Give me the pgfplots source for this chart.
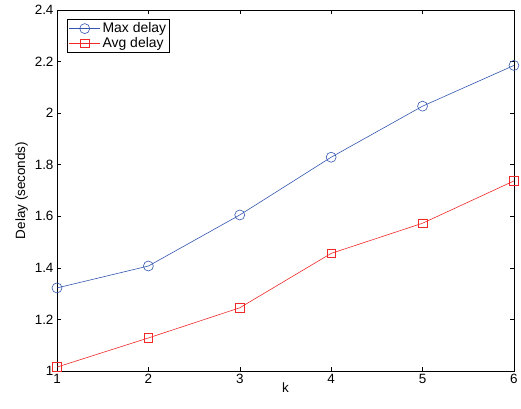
\documentclass[border=0pt]{standalone}
\usepackage{pgfplots}
\pgfplotsset{compat=1.18}
\usepackage{fontspec}
\setmainfont{Liberation Sans}
\definecolor{maxblue}{RGB}{50,85,175}
\definecolor{avgred}{RGB}{240,40,40}

\begin{document}
\begin{tikzpicture}
  \begin{axis}[
    name=ax,
    scale only axis,
    width=457bp, height=361bp,
    xmin=1, xmax=6, ymin=1, ymax=2.4,
    xtick={1,...,6},
    ytick={1,1.2,...,2.4},
    yticklabel style={/pgf/number format/fixed, /pgf/number format/precision=1},
    /pgf/number format/assume math mode=true,
    tick align=inside,
    major tick length=4bp,
    tick style={black, line width=0.5pt},
    axis line style={black, line width=0.8pt},
    ticklabel style={font=\fontsize{13.5}{15}\selectfont},
    xlabel={k}, ylabel={Delay (seconds)},
    label style={font=\fontsize{13.5}{15}\selectfont},
    xlabel style={yshift=8bp},
    ylabel style={yshift=0bp},
    legend style={at={(0.022,0.975)}, anchor=north west, font=\fontsize{14}{16}\selectfont,
      draw=black, line width=0.6pt, inner sep=1.5pt, row sep=-1pt},
    legend cell align=left,
    legend image code/.code={%
      \draw[mark repeat=2,mark phase=2] plot coordinates {(0cm,0cm) (0.55cm,0cm) (1.1cm,0cm)};},
  ]
    \addplot[color=maxblue, line width=0.6pt, mark=o, mark size=5bp, mark options={line width=0.6pt}]
      coordinates {(1,1.322) (2,1.407) (3,1.605) (4,1.829) (5,2.027) (6,2.185)};
    \addplot[color=avgred, line width=0.6pt, mark=square, mark size=4.3bp, mark options={line width=0.6pt}]
      coordinates {(1,1.015) (2,1.128) (3,1.245) (4,1.456) (5,1.573) (6,1.737)};
    \legend{Max delay, Avg delay}
  \end{axis}
  \path ([shift={(-57bp,-38bp)}]ax.south west) rectangle ([shift={(7bp,10bp)}]ax.north east);
\end{tikzpicture}
\end{document}
